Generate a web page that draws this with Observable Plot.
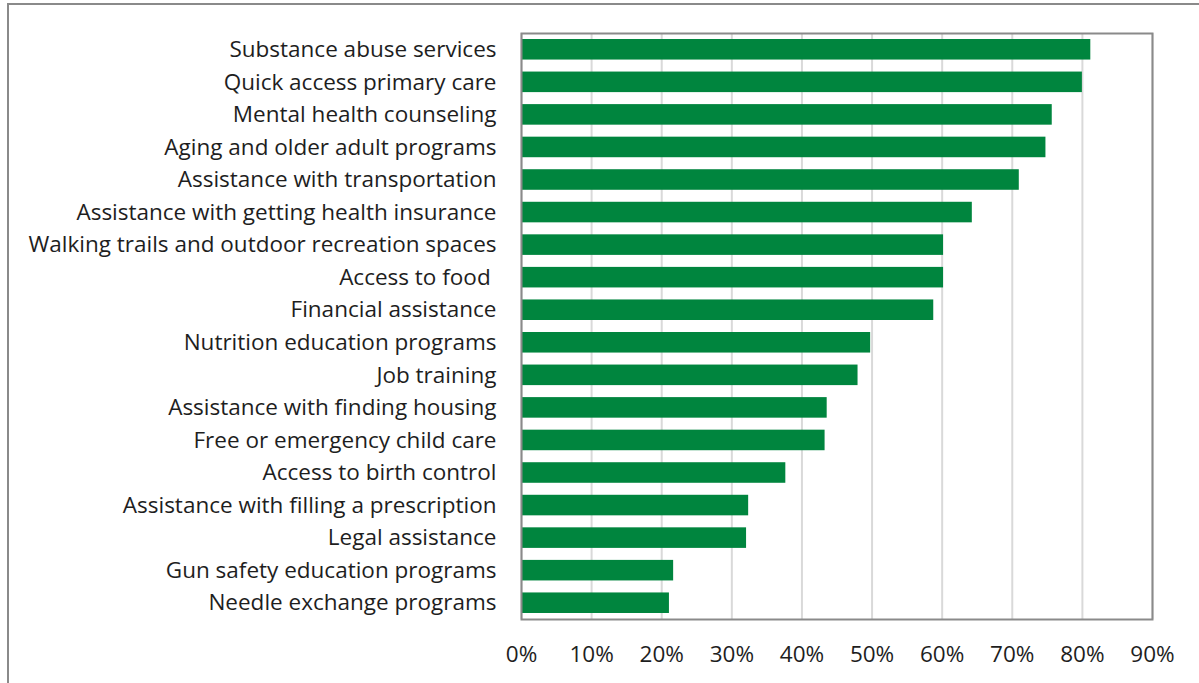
<!DOCTYPE html>
<html>
<head>
<meta charset="utf-8">
<script src="https://cdn.jsdelivr.net/npm/d3@7"></script>
<script src="https://cdn.jsdelivr.net/npm/@observablehq/plot@0.6"></script>
<style>
  html, body { margin: 0; padding: 0; background: #fff; }
  body { width: 1199px; height: 683px; overflow: hidden; position: relative; }
  #outer { position: absolute; left: 7px; top: 3px; width: 1300px; height: 800px;
           border-left: 2px solid #8a8a8a; border-top: 2px solid #8a8a8a; }
  #chart { position: absolute; left: 0; top: 0; }
  #chart svg { white-space: pre; }
</style>
</head>
<body>
<div id="outer"></div>
<div id="chart"></div>
<script>
const categories = [
  "Substance abuse services",
  "Quick access primary care",
  "Mental health counseling",
  "Aging and older adult programs",
  "Assistance with transportation",
  "Assistance with getting health insurance",
  "Walking trails and outdoor recreation spaces",
  "Access to food ",
  "Financial assistance",
  "Nutrition education programs",
  "Job training",
  "Assistance with finding housing",
  "Free or emergency child care",
  "Access to birth control",
  "Assistance with filling a prescription",
  "Legal assistance",
  "Gun safety education programs",
  "Needle exchange programs"
];
const values = [81.2, 80.0, 75.7, 74.8, 71.0, 64.3, 60.2, 60.2, 58.8, 49.8, 48.0, 43.6, 43.3, 37.7, 32.4, 32.1, 21.7, 21.1];
const xTicks = [0, 10, 20, 30, 40, 50, 60, 70, 80, 90];

const data = categories.map((c, i) => ({category: c, value: values[i]}));

const chart = Plot.plot({
  width: 1199,
  height: 683,
  marginLeft: 521,
  marginRight: 47,
  marginTop: 33,
  marginBottom: 64,
  style: {fontFamily: "'Open Sans', 'Noto Sans', sans-serif", fontSize: "22.5px", color: "#1e1e1e", background: "transparent"},
  x: {domain: [0, 90], ticks: xTicks, tickFormat: d => d + "%", label: null},
  y: {domain: categories, padding: 0, round: false, label: null},
  marks: [
    Plot.gridX(xTicks, {stroke: "#d9d9d9", strokeOpacity: 1, strokeWidth: 2}),
    Plot.barX(data, {x: "value", y: "category", fill: "#00853e", insetTop: 6, insetBottom: 6}),
    Plot.frame({stroke: "#8a8a8a", strokeWidth: 2}),
    Plot.axisX(xTicks, {tickSize: 0, tickPadding: 27, tickFormat: d => d + "%", label: null, fontSize: 22.5}),
    Plot.axisY({tickSize: 0, tickPadding: 25, label: null, fontSize: 22.5})
  ]
});
document.getElementById("chart").appendChild(chart);
</script>
</body>
</html>
